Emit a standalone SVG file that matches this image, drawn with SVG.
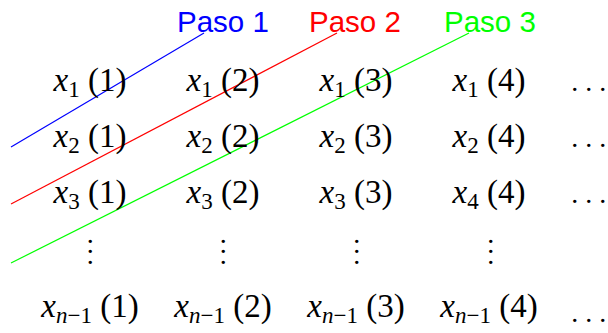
<svg xmlns="http://www.w3.org/2000/svg" width="608" height="333" viewBox="0 0 608 333">
<style>
.m{font-family:"Liberation Serif","DejaVu Serif",serif;font-size:33px;fill:#000;text-anchor:middle}
.i{font-style:italic}
.s{font-size:23px}
.d{font-family:"Liberation Serif","DejaVu Serif",serif;font-size:28px;fill:#000}
.p{font-family:"Liberation Sans",Arial,sans-serif;font-size:29.5px}
.l{fill:none;stroke-width:1.2}
</style>
<rect width="608" height="333" fill="#fff"/>
<g id="connectors">
<line class="l" x1="11" y1="147" x2="204" y2="33" stroke="#0000ff"/>
<line class="l" x1="11" y1="204" x2="337" y2="33" stroke="#ff0000"/>
<line class="l" x1="11" y1="263" x2="469" y2="33" stroke="#00ff00"/>
</g>
<g id="labels">
<text id="paso1" class="p" x="177" y="32" fill="#0000ff">Paso 1</text>
<text id="paso2" class="p" x="309" y="32" fill="#ff0000">Paso 2</text>
<text id="paso3" class="p" x="444" y="32" fill="#00ff00">Paso 3</text>
</g>
<g id="row1">
<text class="m" x="90" y="91"><tspan class="i">x</tspan><tspan class="s" dy="6">1</tspan><tspan dy="-6"> (1)</tspan></text>
<text class="m" x="223" y="91"><tspan class="i">x</tspan><tspan class="s" dy="6">1</tspan><tspan dy="-6"> (2)</tspan></text>
<text class="m" x="356" y="91"><tspan class="i">x</tspan><tspan class="s" dy="6">1</tspan><tspan dy="-6"> (3)</tspan></text>
<text class="m" x="489" y="91"><tspan class="i">x</tspan><tspan class="s" dy="6">1</tspan><tspan dy="-6"> (4)</tspan></text>
<text class="d" x="571.3 585.3 599.3" y="91">...</text>
</g>
<g id="row2">
<text class="m" x="90" y="147"><tspan class="i">x</tspan><tspan class="s" dy="6">2</tspan><tspan dy="-6"> (1)</tspan></text>
<text class="m" x="223" y="147"><tspan class="i">x</tspan><tspan class="s" dy="6">2</tspan><tspan dy="-6"> (2)</tspan></text>
<text class="m" x="356" y="147"><tspan class="i">x</tspan><tspan class="s" dy="6">2</tspan><tspan dy="-6"> (3)</tspan></text>
<text class="m" x="489" y="147"><tspan class="i">x</tspan><tspan class="s" dy="6">2</tspan><tspan dy="-6"> (4)</tspan></text>
<text class="d" x="571.3 585.3 599.3" y="147">...</text>
</g>
<g id="row3">
<text class="m" x="90" y="203"><tspan class="i">x</tspan><tspan class="s" dy="6">3</tspan><tspan dy="-6"> (1)</tspan></text>
<text class="m" x="223" y="203"><tspan class="i">x</tspan><tspan class="s" dy="6">3</tspan><tspan dy="-6"> (2)</tspan></text>
<text class="m" x="356" y="203"><tspan class="i">x</tspan><tspan class="s" dy="6">3</tspan><tspan dy="-6"> (3)</tspan></text>
<text class="m" x="489" y="203"><tspan class="i">x</tspan><tspan class="s" dy="6">4</tspan><tspan dy="-6"> (4)</tspan></text>
<text class="d" x="571.3 585.3 599.3" y="203">...</text>
</g>
<g id="row4">
<text class="d" x="86.8 86.8 86.8" y="242.5 253.3 263.8">...</text>
<text class="d" x="219.8 219.8 219.8" y="242.5 253.3 263.8">...</text>
<text class="d" x="353.3 353.3 353.3" y="242.5 253.3 263.8">...</text>
<text class="d" x="487.3 487.3 487.3" y="242.5 253.3 263.8">...</text>
</g>
<g id="row5">
<text class="m" x="90" y="317"><tspan class="i">x</tspan><tspan class="s" dy="6"><tspan class="i">n</tspan>−1</tspan><tspan dy="-6"> (1)</tspan></text>
<text class="m" x="223" y="317"><tspan class="i">x</tspan><tspan class="s" dy="6"><tspan class="i">n</tspan>−1</tspan><tspan dy="-6"> (2)</tspan></text>
<text class="m" x="356" y="317"><tspan class="i">x</tspan><tspan class="s" dy="6"><tspan class="i">n</tspan>−1</tspan><tspan dy="-6"> (3)</tspan></text>
<text class="m" x="489" y="317"><tspan class="i">x</tspan><tspan class="s" dy="6"><tspan class="i">n</tspan>−1</tspan><tspan dy="-6"> (4)</tspan></text>
<text class="d" x="571.3 585.3 599.3" y="321.7">...</text>
</g>
</svg>
